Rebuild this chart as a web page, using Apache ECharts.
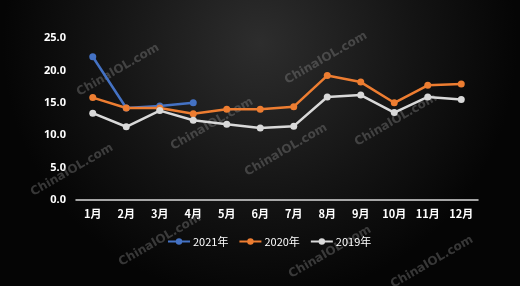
<!DOCTYPE html>
<html><head><meta charset="utf-8">
<script src="https://cdn.jsdelivr.net/npm/echarts@6/dist/echarts.min.js"></script>
<style>html,body{margin:0;padding:0;background:#000;}#c{width:520px;height:286px;}</style>
</head><body><div id="c"></div>
<script>
const categories = ['1月','2月','3月','4月','5月','6月','7月','8月','9月','10月','11月','12月'];
const s2021 = [22.1, 14.2, 14.5, 15.0];
const s2020 = [15.8, 14.2, 14.2, 13.3, 14.0, 14.0, 14.4, 19.2, 18.2, 15.0, 17.7, 17.9];
const s2019 = [13.4, 11.3, 13.8, 12.3, 11.7, 11.1, 11.4, 15.9, 16.2, 13.5, 15.9, 15.5];
const yTicks = [0, 5, 10, 15, 20, 25];
const watermarks = [[118,70],[326,58],[72,170],[212,124],[286,150],[396,120],[432,262],[330,252],[160,240]];

const chart = echarts.init(document.getElementById('c'));
const mk = (name, data, color) => ({
  name, type: 'line', data, symbol: 'circle', symbolSize: 7,
  lineStyle: { color, width: 2.5 }, itemStyle: { color }, z: 3
});
chart.setOption({
  backgroundColor: {
    type: 'radial', x: 0.5, y: 0.15, r: 0.9,
    colorStops: [{ offset: 0, color: '#2d2d2d' }, { offset: 0.6, color: '#141414' }, { offset: 1, color: '#050505' }]
  },
  animation: false,
  graphic: watermarks.map(p => ({
    type: 'text', x: p[0], y: p[1], rotation: Math.PI / 6, z: 1,
    style: { text: 'ChinaIOL.com', fill: 'rgba(150,150,150,0.35)', font: 'bold 12px "DejaVu Sans"', align: 'center', verticalAlign: 'middle' }
  })),
  grid: { left: 76, right: 42, top: 38, bottom: 86 },
  legend: {
    bottom: 34, left: 162, padding: 5, itemWidth: 22, itemHeight: 8, itemGap: 10,
    textStyle: { color: '#fff', fontSize: 11, fontFamily: 'Noto Sans CJK SC', padding: [0, 0, 0, -2] },
    data: ['2021年', '2020年', '2019年']
  },
  xAxis: {
    type: 'category', data: categories, boundaryGap: true,
    axisLine: { lineStyle: { color: '#d9d9d9', width: 1.5 } },
    axisTick: { show: false },
    axisLabel: { color: '#fff', fontSize: 11, fontWeight: 'bold', fontFamily: 'Noto Sans CJK SC', margin: 8 }
  },
  yAxis: {
    type: 'value', min: 0, max: 25, interval: 5,
    axisLine: { show: false }, axisTick: { show: false }, splitLine: { show: false },
    axisLabel: { color: '#fff', fontSize: 11, fontWeight: 'bold', fontFamily: 'Noto Sans', margin: 10,
      formatter: v => yTicks.includes(v) ? v.toFixed(1) : '' }
  },
  series: [
    mk('2021年', s2021, '#4472c4'),
    mk('2020年', s2020, '#ed7d31'),
    mk('2019年', s2019, '#d9d9d9')
  ]
});
</script></body></html>
